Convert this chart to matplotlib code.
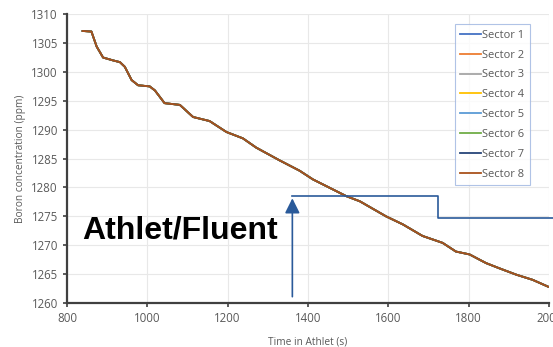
"""
Boron concentration vs Athlet time (Athlet/Fluent coupling)
"""

import matplotlib
matplotlib.use('Agg')
import matplotlib.pyplot as plt

# data (all sectors overlap on one curve)
time_s = [839, 861, 874, 890, 915, 932, 944, 961, 977, 1006, 1019, 1043, 1081,
          1114, 1155, 1197, 1238, 1271, 1329, 1379, 1412, 1495, 1529, 1594,
          1636, 1685, 1735, 1768, 1802, 1843, 1876, 1918, 1959, 1998]
boron_ppm = [1307.1, 1307.0, 1304.4, 1302.5, 1302.0, 1301.7, 1300.9, 1298.6,
             1297.7, 1297.5, 1296.8, 1294.6, 1294.3, 1292.2, 1291.5, 1289.6,
             1288.5, 1286.9, 1284.7, 1282.9, 1281.4, 1278.5, 1277.6, 1275.0,
             1273.6, 1271.6, 1270.4, 1268.9, 1268.4, 1266.9, 1266.0, 1264.9,
             1264.0, 1262.8]
sectors = ['Sector 1', 'Sector 2', 'Sector 3', 'Sector 4',
           'Sector 5', 'Sector 6', 'Sector 7', 'Sector 8']
colors = ['#4472C4', '#ED7D31', '#A5A5A5', '#FFC000',
          '#5B9BD5', '#70AD47', '#264478', '#A9521B']
x_ticks = [800, 1000, 1200, 1400, 1600, 1800, 2000]
y_ticks = list(range(1260, 1311, 5))

plt.rcParams['font.family'] = ['Open Sans', 'DejaVu Sans']

fig = plt.figure(figsize=(5.53, 3.47), dpi=100)
ax = fig.add_axes([0.121, 0.127, 0.872, 0.832])

for name, c in zip(sectors, colors):
    ax.plot(time_s, boron_ppm, color=c, linewidth=1.3, label=name)

ax.set_xlim(800, 2000)
ax.set_ylim(1260, 1310)
ax.set_xticks(x_ticks)
ax.set_yticks(y_ticks)
ax.grid(color='#e8e8e8', linewidth=0.8)
ax.set_axisbelow(True)
for s in ['top', 'right']:
    ax.spines[s].set_visible(False)
for s in ['left', 'bottom']:
    ax.spines[s].set_color('#404040')
    ax.spines[s].set_linewidth(1.6)
ax.tick_params(labelsize=8.3, colors='#404040', length=3, width=1.2, labelcolor='#595959')
ax.set_xlabel('Time in Athlet (s)', fontsize=7.3, color='#595959', labelpad=8)
ax.set_ylabel('Boron concentration (ppm)', fontsize=7.3, color='#595959', labelpad=4)

leg = ax.legend(loc='upper right', bbox_to_anchor=(0.972, 0.985), fontsize=8,
                frameon=True, fancybox=False, handlelength=1.9, handletextpad=0.1,
                labelspacing=0.8, borderpad=0.5, labelcolor='#595959')
leg.get_frame().set_edgecolor('#9db4e0')
leg.get_frame().set_linewidth(0.8)

# overlay annotation
ax.text(837, 1272.6, 'Athlet/Fluent', fontsize=23, fontweight='bold',
        family=['Liberation Sans', 'DejaVu Sans'], va='center', ha='left', color='black')
arrow_c = '#2a5a9a'
ax.annotate('', xy=(1361, 1278.6), xytext=(1361, 1260.6),
            arrowprops=dict(arrowstyle='-|>,head_width=0.45,head_length=0.9',
                            color=arrow_c, lw=1.2), annotation_clip=False)
ax.plot([1361, 1724, 1724, 2020], [1278.5, 1278.5, 1274.7, 1274.7],
        color=arrow_c, linewidth=1.2, clip_on=False)

plt.savefig('out.png', dpi=100)
